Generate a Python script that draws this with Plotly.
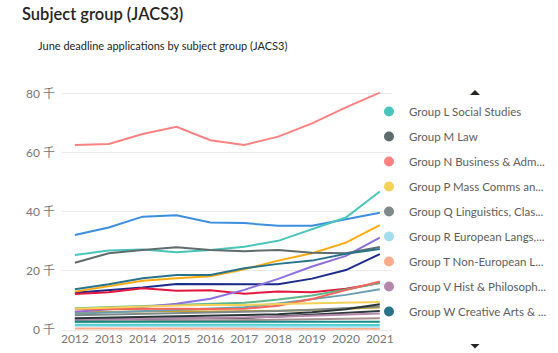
import plotly.graph_objects as go

years = [2012, 2013, 2014, 2015, 2016, 2017, 2018, 2019, 2020, 2021]

# June deadline applications, in thousands (千)
group_a = [3.5, 3.7, 3.9, 3.9, 4.0, 4.1, 4.6, 5.2, 5.8, 6.4]
group_b = [32.2, 34.7, 38.4, 38.9, 36.4, 36.2, 35.3, 35.3, 37.5, 39.7]
group_c = [12.6, 13.4, 14.4, 15.6, 15.5, 15.5, 15.5, 17.4, 20.3, 25.7]
group_d = [6.0, 6.2, 6.4, 6.4, 6.3, 6.3, 6.5, 6.8, 7.2, 7.6]
group_f = [12.2, 12.8, 14.1, 13.3, 13.5, 12.3, 13.0, 12.8, 14.0, 15.9]
group_g = [7.4, 7.8, 8.2, 8.6, 8.9, 9.2, 10.3, 11.7, 13.7, 15.9]
group_h = [13.0, 14.9, 16.7, 17.5, 18.2, 20.6, 23.5, 26.0, 29.6, 35.5]
group_i = [6.2, 7.0, 7.8, 8.9, 10.6, 13.6, 17.3, 21.5, 25.1, 31.3]
group_j = [5.5, 5.9, 6.3, 6.8, 7.2, 7.7, 9.0, 10.4, 11.9, 13.8]
group_k = [7.0, 7.1, 7.3, 7.2, 7.1, 7.2, 8.2, 10.5, 13.5, 16.4]
group_l = [25.4, 26.9, 27.3, 26.3, 27.1, 28.2, 30.2, 34.1, 38.1, 46.9]
group_m = [22.8, 26.0, 27.1, 28.0, 27.1, 26.7, 27.1, 26.2, 26.0, 28.1]
group_n = [62.7, 63.0, 66.4, 68.8, 64.3, 62.7, 65.5, 70.0, 75.4, 80.4]
group_p = [7.2, 7.6, 8.0, 8.3, 8.5, 8.5, 8.8, 9.0, 9.2, 9.5]
group_q = [5.0, 5.2, 5.4, 5.6, 5.8, 6.0, 6.4, 6.9, 7.5, 8.0]
group_r = [1.4, 1.3, 1.3, 1.2, 1.2, 1.1, 1.1, 1.1, 1.1, 1.1]
group_t = [0.5, 0.5, 0.5, 0.4, 0.4, 0.4, 0.4, 0.4, 0.4, 0.4]
group_v = [3.5, 3.6, 3.8, 3.9, 4.0, 4.2, 4.5, 4.8, 5.2, 5.6]
group_w = [13.8, 15.5, 17.5, 18.6, 18.6, 20.9, 22.4, 23.5, 25.8, 27.4]
group_x = [2.8, 2.9, 3.0, 3.0, 3.1, 3.2, 3.4, 3.6, 3.8, 4.0]
group_y = [2.8, 2.8, 2.7, 2.7, 2.6, 2.6, 2.6, 2.7, 2.7, 2.8]
group_z = [4.0, 4.2, 4.5, 4.6, 4.7, 4.9, 5.3, 6.0, 7.0, 8.7]
combined = [1.8, 1.8, 1.7, 1.7, 1.7, 1.7, 1.7, 1.7, 1.7, 1.7]

series_names = [
    "Group A Medicine & Dentistry",
    "Group B Subjects allied to Medicine",
    "Group C Biological Sciences",
    "Group D Vet Sci, Ag & related",
    "Group F Physical Sciences",
    "Group G Mathematical Sciences",
    "Group H Engineering",
    "Group I Computer Sciences",
    "Group J Technologies",
    "Group K Architecture, Build & Plan",
    "Group L Social Studies",
    "Group M Law",
    "Group N Business & Admin studies",
    "Group P Mass Comms and Documentation",
    "Group Q Linguistics, Classics and related",
    "Group R European Langs, Lit and related",
    "Group T Non-European Langs and related",
    "Group V Hist & Philosophical studies",
    "Group W Creative Arts & Design",
    "Group X Education",
    "Group Y Combined Arts",
    "Group Z Combined Sciences",
    "Combined Social Sciences",
]
series_values = [group_a, group_b, group_c, group_d, group_f, group_g, group_h,
                 group_i, group_j, group_k, group_l, group_m, group_n, group_p,
                 group_q, group_r, group_t, group_v, group_w, group_x, group_y,
                 group_z, combined]
# Legend page currently shown (entries L..W), with their truncated labels
legend_labels = {
    "Group L Social Studies": "Group L Social Studies",
    "Group M Law": "Group M Law",
    "Group N Business & Admin studies": "Group N Business & Adm...",
    "Group P Mass Comms and Documentation": "Group P Mass Comms an...",
    "Group Q Linguistics, Classics and related": "Group Q Linguistics, Clas...",
    "Group R European Langs, Lit and related": "Group R European Langs,...",
    "Group T Non-European Langs and related": "Group T Non-European L...",
    "Group V Hist & Philosophical studies": "Group V Hist & Philosoph...",
    "Group W Creative Arts & Design": "Group W Creative Arts & ...",
}

colors = ["#2F3A3C", "#3D8EE0", "#1B2A8C", "#C9A227", "#E3173E", "#5DB68B",
          "#FFAA0F", "#8C6FE0", "#6A9FB0", "#F4665C", "#4AC5BB", "#5F6B6D",
          "#FB8281", "#F4D25A", "#7F898A", "#A4DDEE", "#FDAB89", "#B687AC",
          "#28738A", "#A78F8F", "#168980", "#293537", "#4FD0D0"]

FONT = "Segoe UI, Lato, 'Noto Sans CJK SC', sans-serif"

fig = go.Figure()
for name, vals, col in zip(series_names, series_values, colors):
    fig.add_trace(go.Scatter(
        x=years, y=vals, mode="lines", name=name, legendgroup=name,
        showlegend=False, line=dict(color=col, width=2),
        hovertemplate=name + "<br>%{x}: %{y:.1f} 千<extra></extra>"))

for name, col in zip(series_names, colors):
    if name in legend_labels:
        fig.add_trace(go.Scatter(
            x=[None], y=[None], mode="markers", name=legend_labels[name],
            legendgroup=name, showlegend=True,
            marker=dict(color=col, size=10, symbol="circle"),
            hoverinfo="skip"))

yticks = [0, 20, 40, 60, 80]

fig.update_layout(
    width=558, height=353,
    margin=dict(l=62, r=166, t=82, b=23, autoexpand=False),
    paper_bgcolor="white", plot_bgcolor="white",
    font=dict(family=FONT, size=12, color="#605E5C"),
    title=dict(text="Subject group (JACS3)", x=22 / 558, xref="container",
               xanchor="left", y=1 - 14 / 353, yref="container", yanchor="middle",
               font=dict(family=FONT, size=16.5, color="#252423", weight=600)),
    xaxis=dict(range=[2011.62, 2021.36], tickvals=years, showgrid=False,
               zeroline=False, showline=False, ticks="", automargin=False,
               tickfont=dict(size=12, color="#777777")),
    yaxis=dict(range=[0, 84], tickvals=yticks,
               ticktext=[f"{v} 千" for v in yticks], automargin=False,
               showgrid=True, gridcolor="#EAEAEA", gridwidth=1,
               zeroline=True, zerolinecolor="#EAEAEA", zerolinewidth=1,
               showline=False, ticks="", ticklabelstandoff=6,
               tickfont=dict(size=12, color="#777777")),
    legend=dict(x=(369 - 62) / 330, xanchor="left", y=(330 - 97) / 248,
                yanchor="top", bgcolor="rgba(0,0,0,0)", tracegroupgap=6,
                font=dict(size=11.5, color="#605E5C")),
    annotations=[dict(text="June deadline applications by subject group (JACS3)",
                      xref="paper", yref="paper", x=(36 - 62) / 330,
                      y=(330 - 46) / 248, xanchor="left", yanchor="middle",
                      showarrow=False,
                      font=dict(family=FONT, size=11, color="#252423"))],
    shapes=[
        dict(type="path", xref="paper", yref="paper", line=dict(width=0),
             fillcolor="#252423",
             path=f"M {(470-62)/330} {(330-95)/248} L {(480-62)/330} {(330-95)/248} L {(475-62)/330} {(330-90)/248} Z"),
        dict(type="path", xref="paper", yref="paper", line=dict(width=0),
             fillcolor="#252423",
             path=f"M {(470.5-62)/330} {(330-344)/248} L {(479.5-62)/330} {(330-344)/248} L {(475-62)/330} {(330-348.5)/248} Z"),
    ],
)

fig.write_html("out.html")
